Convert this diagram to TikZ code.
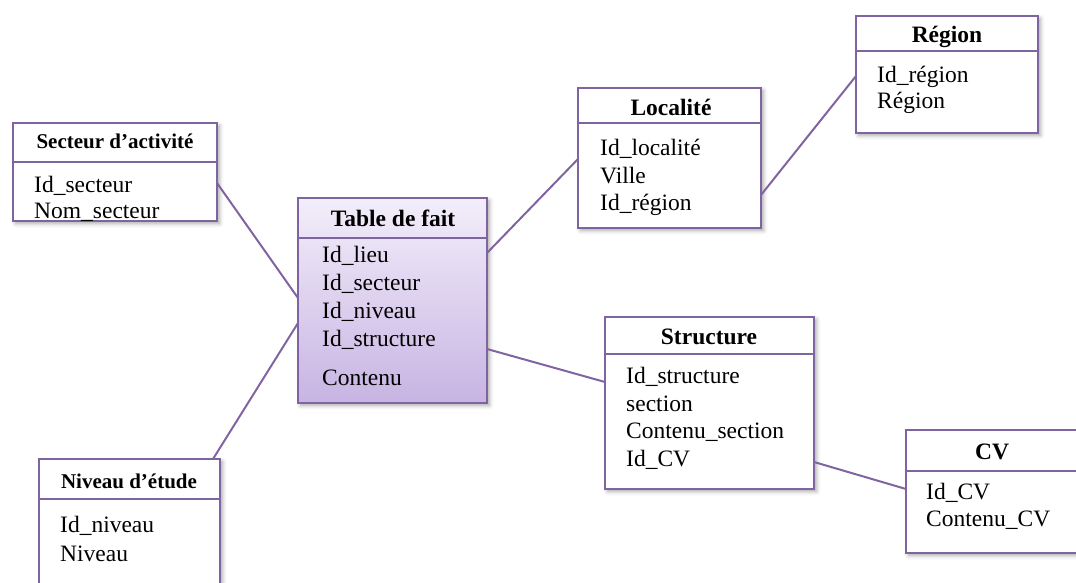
\documentclass[tikz,border=0pt]{standalone}
\usepackage{fontspec}
\setmainfont{Liberation Serif}
\usetikzlibrary{shadows.blur}
\definecolor{edgepurple}{RGB}{128,100,162}
\definecolor{facetop}{RGB}{243,238,250}
\definecolor{facebottom}{RGB}{199,180,227}
\newcommand{\entity}[7]{% name, left, top, right, bottom, divider y, style
  \node[entitybox,#7,minimum width={(#4-#2)*1pt},minimum height={(#5-#3)*1pt}]
    (#1) at ({(#2+#4)/2},{(#3+#5)/2}) {};
  \draw[divline] (#1.west |- 0,#6) -- (#1.east |- 0,#6);
}
\begin{document}
\begin{tikzpicture}[x=1pt,y=-1pt,
  entitybox/.style={draw=edgepurple, line width=2.4pt, fill=white, inner sep=0pt, outer sep=0pt,
    blur shadow={shadow xshift=2.5pt, shadow yshift=-2.5pt, shadow blur radius=4pt, shadow opacity=35}},
  factbox/.style={top color=facetop, bottom color=facebottom},
  plainbox/.style={},
  divline/.style={draw=edgepurple, line width=2pt},
  link/.style={draw=edgepurple, line width=2pt},
  headtext/.style={anchor=base, inner sep=0pt, font=\bfseries\fontsize{23.5}{28}\selectfont},
  smallhead/.style={anchor=base, inner sep=0pt, font=\bfseries\fontsize{21}{25}\selectfont},
  attr/.style={anchor=base west, inner sep=0pt, font=\fontsize{23.5}{28}\selectfont}
]
\useasboundingbox (0,0) rectangle (1076,583);

% connectors (drawn first, boxes sit on top)
\coordinate (sectA) at (217,183);
\coordinate (faitA) at (298,298);
\coordinate (nivA) at (213,458);
\coordinate (faitB) at (298,323);
\coordinate (faitC) at (487,253);
\coordinate (locA) at (578,159);
\coordinate (locB) at (761,195);
\coordinate (regA) at (856,76);
\coordinate (faitD) at (487,349);
\coordinate (strucA) at (605,382);
\coordinate (strucB) at (814,462);
\coordinate (cvA) at (906,489);

% boxes
\entity{sect}{13}{123}{217}{221}{162}{plainbox}
\entity{fait}{298}{198}{487}{403}{238}{factbox}
\entity{loc}{578}{88}{761}{228}{123}{plainbox}
\entity{reg}{856}{16}{1038}{133}{51}{plainbox}
\entity{struc}{605}{317}{814}{489}{354}{plainbox}
\entity{cv}{906}{430}{1078}{553}{471}{plainbox}
\entity{niv}{39}{459}{220}{600}{499}{plainbox}

\draw[link] (sect.east |- sectA) -- (fait.west |- faitA);
\draw[link] (niv.north -| nivA) -- (fait.west |- faitB);
\draw[link] (fait.east |- faitC) -- (loc.west |- locA);
\draw[link] (loc.east |- locB) -- (reg.west |- regA);
\draw[link] (fait.east |- faitD) -- (struc.west |- strucA);
\draw[link] (struc.east |- strucB) -- (cv.west |- cvA);

% Secteur d'activité
\node[smallhead] (sect-h) at (115,149) {Secteur d’activité};
\node[attr] (sect-1) at (34,192) {Id\_secteur};
\node[attr] (sect-2) at (34,218) {Nom\_secteur};

% Table de fait
\node[headtext] (fait-h) at (393,226) {Table de fait};
\node[attr] (fait-1) at (322,262) {Id\_lieu};
\node[attr] (fait-2) at (322,290) {Id\_secteur};
\node[attr] (fait-3) at (322,318) {Id\_niveau};
\node[attr] (fait-4) at (322,346) {Id\_structure};
\node[attr] (fait-5) at (322,385) {Contenu};

% Localité
\node[headtext] (loc-h) at (671,116) {Localité};
\node[attr] (loc-1) at (600,156) {Id\_localité};
\node[attr] (loc-2) at (600,183) {Ville};
\node[attr] (loc-3) at (600,210) {Id\_région};

% Région
\node[headtext] (reg-h) at (947,43) {Région};
\node[attr] (reg-1) at (877,83) {Id\_région};
\node[attr] (reg-2) at (877,109) {Région};

% Structure
\node[headtext] (struc-h) at (709,344) {Structure};
\node[attr] (struc-1) at (626,383) {Id\_structure};
\node[attr] (struc-2) at (626,411) {section};
\node[attr] (struc-3) at (626,438) {Contenu\_section};
\node[attr] (struc-4) at (626,466) {Id\_CV};

% CV
\node[headtext] (cv-h) at (992,459) {CV};
\node[attr] (cv-1) at (926,499) {Id\_CV};
\node[attr] (cv-2) at (926,526) {Contenu\_CV};

% Niveau d'étude
\node[smallhead] (niv-h) at (129,488) {Niveau d’étude};
\node[attr] (niv-1) at (60,532) {Id\_niveau};
\node[attr] (niv-2) at (60,561) {Niveau};
\end{tikzpicture}
\end{document}
